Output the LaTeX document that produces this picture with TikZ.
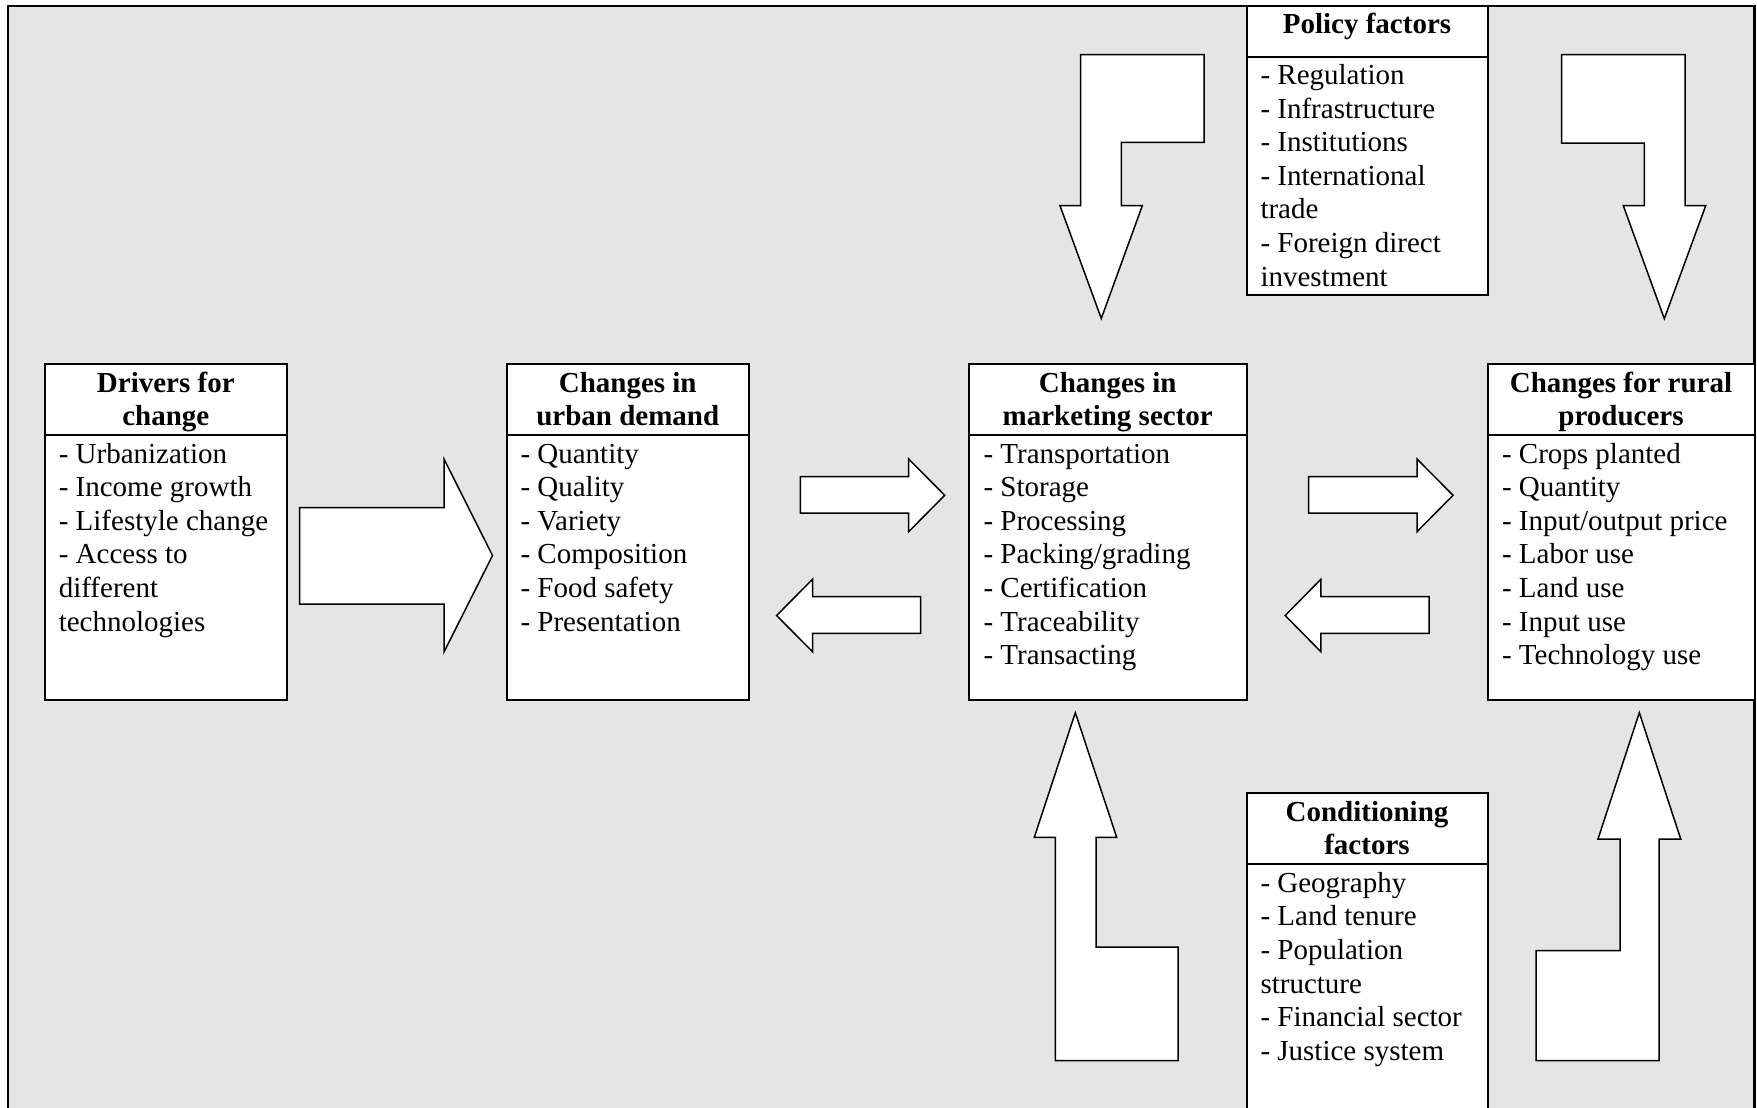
\documentclass[tikz,border=0pt]{standalone}
\usepackage{fontspec}
\setmainfont{Liberation Serif}
\definecolor{bggray}{RGB}{229,229,229}
\tikzset{
  boxpart/.style={draw=black, line width=2pt, fill=white, inner sep=0pt, outer sep=0pt, anchor=north west},
  hdrtext/.style={inner sep=0pt, outer sep=0pt, anchor=north, align=center, font=\fontsize{29}{33.6}\selectfont\bfseries},
  bodytext/.style={inner sep=0pt, outer sep=0pt, anchor=north west, align=left, font=\fontsize{29}{33.6}\selectfont},
  blockarrow/.style={draw=black, line width=1.5pt, fill=white, line join=miter},
  frameline/.style={draw=black, line width=2.5pt, fill=bggray},
}
\begin{document}
\begin{tikzpicture}[x=1pt,y=-1pt]
\useasboundingbox (0,0) rectangle (1757,1108);
\clip (0,0) rectangle (1757,1108);
% frame
\draw[frameline] (7.8,5.8) rectangle (1754.5,1140);

% ---------- boxes ----------
% Drivers for change
\node[boxpart, minimum width=242, minimum height=71] (drvH) at (44.8,364) {};
\node[boxpart, minimum width=242, minimum height=265] (drvB) at (44.8,435) {};
\node[hdrtext] (drvT) at (165.8,368.5) {\strut Drivers for\\change};
\node[bodytext] (drvL) at (58.8,439.5) {\strut - Urbanization\\- Income growth\\- Lifestyle change\\- Access to\\different\\technologies};

% Urban demand
\node[boxpart, minimum width=242.5, minimum height=71] (urbH) at (506.5,364) {};
\node[boxpart, minimum width=242.5, minimum height=265] (urbB) at (506.5,435) {};
\node[hdrtext] (urbT) at (627.75,368.5) {\strut Changes in\\urban demand};
\node[bodytext] (urbL) at (520.5,439.5) {\strut - Quantity\\- Quality\\- Variety\\- Composition\\- Food safety\\- Presentation};

% Marketing sector
\node[boxpart, minimum width=277.6, minimum height=71] (mktH) at (968.9,364) {};
\node[boxpart, minimum width=277.6, minimum height=265] (mktB) at (968.9,435) {};
\node[hdrtext] (mktT) at (1107.7,368.5) {\strut Changes in\\marketing sector};
\node[bodytext] (mktL) at (983.5,439.5) {\strut - Transportation\\- Storage\\- Processing\\- Packing/grading\\- Certification\\- Traceability\\- Transacting};

% Rural producers
\node[boxpart, minimum width=267, minimum height=71] (rurH) at (1487.5,364) {};
\node[boxpart, minimum width=267, minimum height=265] (rurB) at (1487.5,435) {};
\node[hdrtext] (rurT) at (1621,368.5) {\strut Changes for rural\\producers};
\node[bodytext] (rurL) at (1502,439.5) {\strut - Crops planted\\- Quantity\\- Input/output price\\- Labor use\\- Land use\\- Input use\\- Technology use};

% Policy factors
\node[boxpart, minimum width=241, minimum height=51] (polH) at (1246.5,5.8) {};
\node[boxpart, minimum width=241, minimum height=238.3] (polB) at (1246.5,56.7) {};
\node[hdrtext] (polT) at (1367,10) {\strut Policy factors};
\node[bodytext] (polL) at (1260.5,61) {\strut - Regulation\\- Infrastructure\\- Institutions\\- International\\trade\\- Foreign direct\\investment};

% Conditioning factors
\node[boxpart, minimum width=241, minimum height=71.6] (conH) at (1246.5,792.7) {};
\node[boxpart, minimum width=241, minimum height=300] (conB) at (1246.5,864.3) {};
\node[hdrtext] (conT) at (1367,797.8) {\strut Conditioning\\factors};
\node[bodytext] (conL) at (1260.5,868.8) {\strut - Geography\\- Land tenure\\- Population\\structure\\- Financial sector\\- Justice system};

% ---------- block arrows ----------
% drivers -> urban demand
\draw[blockarrow] (299.5,507.5) -- (444,507.5) -- (444,459) -- (492.5,555.5) -- (444,652) -- (444,604) -- (299.5,604) -- cycle;
% urban demand -> marketing
\draw[blockarrow] (800.4,476.5) -- (908.7,476.5) -- (908.7,459) -- (944.7,495.3) -- (908.7,531.7) -- (908.7,513) -- (800.4,513) -- cycle;
% marketing -> urban demand
\draw[blockarrow] (920.5,596.7) -- (812.5,596.7) -- (812.5,579.3) -- (776.6,615.5) -- (812.5,651.7) -- (812.5,633.3) -- (920.5,633.3) -- cycle;
% marketing -> rural
\draw[blockarrow] (1308.7,476.5) -- (1417,476.5) -- (1417,459) -- (1453,495.3) -- (1417,531.7) -- (1417,513) -- (1308.7,513) -- cycle;
% rural -> marketing
\draw[blockarrow] (1429,596.7) -- (1320.8,596.7) -- (1320.8,579.3) -- (1285.2,615.5) -- (1320.8,651.7) -- (1320.8,633.3) -- (1429,633.3) -- cycle;
% policy -> marketing (bent down)
\draw[blockarrow] (1080.7,54.7) -- (1204,54.7) -- (1204,142.3) -- (1121.3,142.3) -- (1121.3,205.7) -- (1142.3,205.7) -- (1101.3,318.5) -- (1060,205.7) -- (1080.7,205.7) -- cycle;
% policy -> rural (bent down)
\draw[blockarrow] (1561.7,54.7) -- (1685,54.7) -- (1685,205.7) -- (1705.7,205.7) -- (1664.3,318.7) -- (1623.3,205.7) -- (1644.3,205.7) -- (1644.3,143) -- (1561.7,143) -- cycle;
% conditioning -> marketing (bent up)
\draw[blockarrow] (1075.3,712.7) -- (1116.7,837.3) -- (1096,837.3) -- (1096,947) -- (1178,947) -- (1178,1060.7) -- (1055.3,1060.7) -- (1055.3,837.3) -- (1034.3,837.3) -- cycle;
% conditioning -> rural (bent up)
\draw[blockarrow] (1639.3,712.7) -- (1680.7,839) -- (1659,839) -- (1659,1060.7) -- (1536,1060.7) -- (1536,950.7) -- (1620,950.7) -- (1620,839) -- (1598,839) -- cycle;
\end{tikzpicture}
\end{document}
